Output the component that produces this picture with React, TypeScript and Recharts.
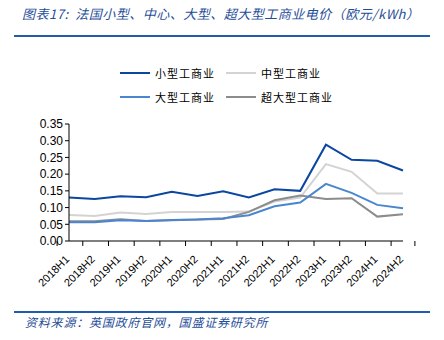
import React from "react";
import { LineChart, Line, XAxis, YAxis } from "recharts";

const categories = ["2018H1","2018H2","2019H1","2019H2","2020H1","2020H2","2021H1","2021H2","2022H1","2022H2","2023H1","2023H2","2024H1","2024H2"];
const small = [0.130,0.126,0.134,0.131,0.147,0.135,0.149,0.130,0.155,0.150,0.288,0.243,0.240,0.211];
const medium = [0.078,0.075,0.085,0.081,0.087,0.087,0.087,0.088,0.118,0.130,0.230,0.207,0.142,0.142];
const large = [0.056,0.056,0.062,0.060,0.063,0.064,0.068,0.077,0.104,0.115,0.171,0.144,0.108,0.098];
const xlarge = [0.059,0.059,0.065,0.060,0.062,0.064,0.066,0.087,0.122,0.136,0.126,0.128,0.073,0.080];
const yTicks = [0, 0.05, 0.1, 0.15, 0.2, 0.25, 0.3, 0.35];

const seriesNames = ["小型工商业", "中型工商业", "大型工商业", "超大型工商业"];
const colors = ["#0B47A1", "#D3D3D3", "#4A86D0", "#8C8C8C"];

const data = categories.map((c, i) => ({
  cat: c,
  s: small[i],
  m: medium[i],
  l: large[i],
  x: xlarge[i],
}));

const font = "'Liberation Sans', Arial, sans-serif";
const cjk = "'Noto Sans CJK SC', sans-serif";

const XTick = (props: any) => {
  const { x, y, payload, index } = props;
  const half = payload && payload.offset ? payload.offset : 11.9;
  return (
    <g>
      <line x1={x - half} x2={x - half} y1={y - 8} y2={y - 3} stroke="#000" strokeWidth={1} />
      {index === categories.length - 1 && (
        <line x1={x + half} x2={x + half} y1={y - 8} y2={y - 3} stroke="#000" strokeWidth={1} />
      )}
      <text
        x={0}
        y={0}
        transform={`translate(${x + 1},${y + 11}) rotate(-45)`}
        textAnchor="end"
        fontSize={11}
        fontFamily={font}
        fill="#000"
      >
        {payload.value}
      </text>
    </g>
  );
};

const legendItems = [
  { name: seriesNames[0], color: colors[0], left: 120, top: 73 },
  { name: seriesNames[1], color: colors[1], left: 226, top: 73 },
  { name: seriesNames[2], color: colors[2], left: 120, top: 97 },
  { name: seriesNames[3], color: colors[3], left: 226, top: 97 },
];

export default function App() {
  return (
    <div style={{ position: "fixed", left: 0, top: 0, width: 444, height: 340, background: "#fff" }}>
      <div
        style={{
          position: "absolute",
          left: 22,
          top: 4,
          fontFamily: cjk,
          fontStyle: "italic",
          fontSize: 13,
          color: "#1F4E99",
          whiteSpace: "nowrap",
          letterSpacing: 0.5,
        }}
      >
        图表17:&nbsp;&nbsp;法国小型、中心、大型、超大型工商业电价（欧元/kWh）
      </div>
      <div style={{ position: "absolute", left: 14, top: 35, width: 416, height: 2, background: "#1F5CB0" }} />
      {legendItems.map((it) => (
        <div key={it.name} style={{ position: "absolute", left: it.left, top: it.top - 8, height: 16, display: "flex", alignItems: "center" }}>
          <div style={{ width: 30, height: 2, background: it.color }} />
          <span style={{ marginLeft: 5, fontFamily: cjk, fontSize: 11, color: "#000", whiteSpace: "nowrap", letterSpacing: 1 }}>{it.name}</span>
        </div>
      ))}
      <div style={{ position: "absolute", left: 0, top: 0 }}>
        <LineChart width={444} height={340} data={data} margin={{ top: 124, right: 41, bottom: 39, left: 24 }}>
          <XAxis
            dataKey="cat"
            interval={0}
            tickLine={false}
            axisLine={{ stroke: "#000" }}
            tick={<XTick />}
            height={60}
          />
          <YAxis
            domain={[0, 0.35]}
            ticks={yTicks}
            tickFormatter={(v: number) => v.toFixed(2)}
            axisLine={{ stroke: "#000" }}
            tickLine={{ stroke: "#000" }}
            tickSize={4}
            tick={{ fontSize: 12, fontFamily: font, fill: "#000" }}
            width={45}
            interval={0}
          />
          <Line dataKey="m" stroke={colors[1]} strokeWidth={2} dot={false} isAnimationActive={false} />
          <Line dataKey="x" stroke={colors[3]} strokeWidth={2} dot={false} isAnimationActive={false} />
          <Line dataKey="l" stroke={colors[2]} strokeWidth={2} dot={false} isAnimationActive={false} />
          <Line dataKey="s" stroke={colors[0]} strokeWidth={2} dot={false} isAnimationActive={false} />
        </LineChart>
      </div>
      <div style={{ position: "absolute", left: 14, top: 311, width: 416, height: 2, background: "#1F5CB0" }} />
      <div
        style={{
          position: "absolute",
          left: 25,
          top: 313,
          fontFamily: cjk,
          fontStyle: "italic",
          fontSize: 12,
          color: "#1F4E99",
          whiteSpace: "nowrap",
          letterSpacing: 0.8,
        }}
      >
        资料来源：英国政府官网，国盛证券研究所
      </div>
    </div>
  );
}
